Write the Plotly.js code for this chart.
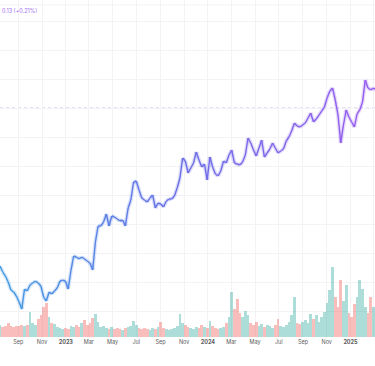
<!DOCTYPE html>
<html>
<head>
<meta charset="utf-8">
<script src="https://cdn.plot.ly/plotly-3.0.1.min.js"></script>
<style>html,body{margin:0;padding:0;background:#fff;}#chart{width:375px;height:366px;}</style>
</head>
<body>
<div id="chart"></div>
<script>
// Weekly series, starting mid-July 2022
const startDate = '2022-07-16';
const stepDays = 7;

const price = [
  27.76, 26.72, 26.03, 25.00, 23.62, 23.28, 22.59, 21.55, 20.34, 23.79,
  23.45, 24.48, 24.83, 25.17, 24.83, 24.31, 22.41, 21.72, 23.28, 22.93,
  23.45, 23.97, 25.17, 25.34, 25.17, 23.79, 26.90, 29.48, 29.31, 28.97,
  29.31, 28.97, 28.62, 28.28, 27.07, 31.90, 34.66, 34.66, 35.34, 36.72,
  34.66, 36.38, 36.21, 35.86, 35.52, 35.69, 34.66, 37.76, 39.14, 42.24,
  42.41, 40.86, 39.48, 39.14, 38.79, 39.48, 40.00, 37.76, 38.62, 38.45,
  37.93, 38.97, 39.31, 39.31, 39.83, 41.21, 42.93, 46.38, 45.86, 43.79,
  44.66, 45.52, 47.41, 46.03, 44.83, 45.34, 42.59, 46.55, 44.83, 43.62,
  43.28, 44.14, 45.86, 45.52, 46.90, 47.76, 45.52, 45.34, 45.17, 45.69,
  46.90, 49.83, 48.97, 47.76, 46.72, 48.10, 49.48, 46.55, 47.24, 47.93,
  48.97, 48.10, 47.24, 47.59, 47.93, 49.31, 50.00, 51.03, 52.41, 51.90,
  51.72, 52.07, 52.41, 53.28, 54.14, 52.59, 53.10, 53.79, 54.48, 55.17,
  56.72, 57.93, 58.45, 56.38, 53.79, 48.97, 52.07, 54.66, 53.45, 52.59,
  51.72, 53.97, 54.66, 56.03, 59.83, 58.45, 58.10, 58.45, 58.10
];

const volume = [
  1.2, 1.0, 1.1, 1.4, 1.1, 1.0, 1.1, 1.1, 1.2, 1.1,
  1.2, 2.5, 1.4, 1.2, 1.8, 2.2, 3.0, 3.4, 2.0, 1.4,
  1.3, 1.0, 0.9, 0.8, 0.9, 0.8, 1.1, 1.0, 1.2, 1.0,
  1.4, 1.7, 1.2, 1.4, 1.9, 2.3, 1.5, 1.0, 1.1, 0.9,
  0.8, 1.0, 0.8, 0.9, 0.8, 0.7, 0.9, 1.0, 1.1, 1.6,
  1.2, 0.9, 0.8, 0.9, 0.8, 0.7, 0.9, 0.8, 1.0, 1.5,
  0.9, 0.8, 0.7, 0.8, 0.9, 1.1, 2.3, 1.4, 1.2, 1.0,
  0.9, 0.8, 1.0, 0.9, 1.2, 1.0, 0.9, 1.6, 1.1, 0.9,
  0.8, 0.9, 1.0, 1.4, 2.0, 4.5, 2.8, 3.8, 2.4, 2.0,
  2.6, 2.2, 1.4, 1.2, 1.5, 1.1, 1.3, 1.0, 1.2, 1.1,
  0.9, 1.2, 1.8, 1.1, 1.0, 1.2, 1.5, 2.2, 4.0, 1.4,
  1.3, 1.5, 1.7, 1.4, 2.3, 1.8, 2.2, 1.5, 2.0, 2.5,
  3.4, 4.7, 7.0, 4.0, 3.0, 5.7, 3.6, 5.2, 2.4, 2.0,
  3.3, 4.0, 5.7, 4.8, 3.0, 2.4, 4.0, 3.0, 2.2
];

const tickVals = ['2022-09-01','2022-11-01','2023-01-01','2023-03-01','2023-05-01','2023-07-01',
  '2023-09-01','2023-11-01','2024-01-01','2024-03-01','2024-05-01','2024-07-01',
  '2024-09-01','2024-11-01','2025-01-01','2025-03-01'];
const tickText = ['Sep','Nov','<b>2023</b>','Mar','May','Jul','Sep','Nov','<b>2024</b>','Mar','May','Jul','Sep','Nov','<b>2025</b>','Mar'];

const changeLabel = '0.13 (+0.21%)';
const refLevel = 55;

// dates
const dates = price.map((_, i) => {
  const d = new Date(startDate + 'T00:00:00Z');
  d.setUTCDate(d.getUTCDate() + i * stepDays);
  return d.toISOString().slice(0, 10);
});

// colour gradient along the line
const stops = [[0, [66, 155, 228]], [0.45, [104, 112, 230]], [1, [152, 92, 240]]];
function colAt(t) {
  for (let k = 0; k < stops.length - 1; k++) {
    const [t0, c0] = stops[k], [t1, c1] = stops[k + 1];
    if (t <= t1) {
      const u = (t - t0) / (t1 - t0);
      return c0.map((v, j) => Math.round(v + (c1[j] - v) * u));
    }
  }
  return stops[stops.length - 1][1];
}

const traces = [];
// volume bars (main y axis, drawn below)
const volColors = volume.map((_, i) =>
  (i > 0 && price[i] < price[i - 1]) ? 'rgba(239,83,80,0.38)' : 'rgba(38,166,154,0.38)');
traces.push({
  type: 'bar', x: dates, y: volume, yaxis: 'y', xaxis: 'x',
  marker: {color: volColors, line: {width: 0}},
  width: stepDays * 86400000, hoverinfo: 'skip'
});
// glow
const n = price.length;
for (let i = 0; i < n - 1; i++) {
  const c = colAt(i / (n - 2));
  traces.push({
    type: 'scatter', mode: 'lines', x: [dates[i], dates[i + 1]], y: [price[i], price[i + 1]],
    yaxis: 'y2', line: {color: `rgba(${c[0]},${c[1]},${c[2]},0.22)`, width: 4}, hoverinfo: 'skip'
  });
}
for (let i = 0; i < n - 1; i++) {
  const c = colAt(i / (n - 2));
  traces.push({
    type: 'scatter', mode: 'lines', x: [dates[i], dates[i + 1]], y: [price[i], price[i + 1]],
    yaxis: 'y2', line: {color: `rgb(${c[0]},${c[1]},${c[2]})`, width: 1.4}, hoverinfo: 'skip'
  });
}

const layout = {
  width: 375, height: 366,
  margin: {l: 0, r: 0, t: 0, b: 29, pad: 0},
  paper_bgcolor: '#ffffff', plot_bgcolor: '#ffffff',
  showlegend: false,
  bargap: 0,
  xaxis: {
    type: 'date', range: ['2022-07-16', '2025-03-05'],
    tickmode: 'array', tickvals: tickVals, ticktext: tickText,
    tickfont: {family: 'Inter, Roboto, sans-serif', size: 5.5, color: '#5a5a5a'},
    showgrid: true, gridcolor: '#f3f3f6', gridwidth: 1,
    zeroline: false, showline: false, ticks: '', fixedrange: true
  },
  yaxis: {
    range: [0, 33.7], showgrid: false, zeroline: false, showticklabels: false, showline: false
  },
  yaxis2: {
    overlaying: 'y', side: 'right', range: [15.52, 73.62], tick0: 0, dtick: 5,
    showgrid: true, gridcolor: '#f3f3f6', gridwidth: 1,
    zeroline: false, showticklabels: false, showline: false, ticks: ''
  },
  shapes: [
    {type: 'line', xref: 'paper', x0: 0, x1: 1, yref: 'y2', y0: refLevel, y1: refLevel,
     line: {color: 'rgba(195,190,228,0.9)', width: 1, dash: 'dot'}, layer: 'below'},
    {type: 'line', xref: 'paper', x0: 0, x1: 1, yref: 'paper', y0: 0.985, y1: 0.985,
     line: {color: '#f3f3f5', width: 1}, layer: 'below'}
  ],
  annotations: [
    {xref: 'paper', yref: 'paper', x: 0, y: 0.967, xanchor: 'left', yanchor: 'middle',
     text: changeLabel, showarrow: false,
     font: {family: 'Inter, Roboto, sans-serif', size: 5.5, color: 'rgb(160,110,245)'}}
  ]
};

Plotly.newPlot('chart', traces, layout, {staticPlot: true, displayModeBar: false});
</script>
</body>
</html>
